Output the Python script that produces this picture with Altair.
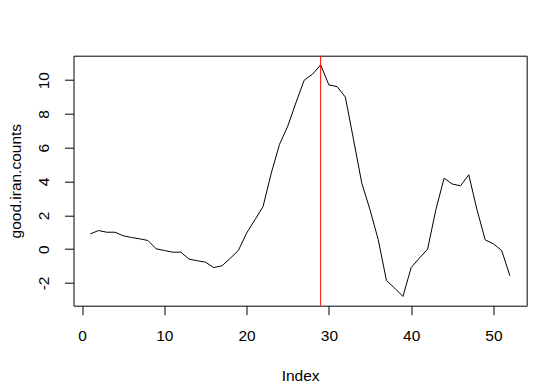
import altair as alt
import pandas as pd

index = list(range(1, 53))
counts = [0.9, 1.1, 1.0, 1.0, 0.79, 0.69, 0.61, 0.51,
          0.02, -0.08, -0.18, -0.18, -0.59, -0.69, -0.77, -1.09,
          -0.99, -0.55, -0.08, 0.95, 1.73, 2.52, 4.5, 6.2, 7.28, 8.67,
          10.0, 10.35, 10.9, 9.72, 9.62, 9.0, 6.47, 3.9, 2.33, 0.55,
          -1.86, -2.31, -2.8, -1.09, -0.53, 0.0, 2.33, 4.2, 3.85, 3.75,
          4.4, 2.33, 0.55, 0.31, -0.08, -1.58]
peak_index = [29]
x_ticks = [0, 10, 20, 30, 40, 50]
y_ticks = [-2, 0, 2, 4, 6, 8, 10]

df = pd.DataFrame({"Index": index, "counts": counts})
vdf = pd.DataFrame({"Index": peak_index})

FONT = "Liberation Sans"
FS = 15.5

xscale = alt.Scale(domain=[-1.04, 54.04], nice=False, zero=False)
yscale = alt.Scale(domain=[-3.348, 11.448], nice=False, zero=False)

xaxis = alt.Axis(values=x_ticks, title="Index", labelBaseline="alphabetic",
                 labelPadding=26, titleY=75, titleBaseline="alphabetic",
                 titleAlign="center")
yaxis = alt.Axis(values=y_ticks, title="good.iran.counts", labelAngle=270,
                 labelAlign="center", labelBaseline="alphabetic", labelPadding=16.5,
                 labelExpr="datum.value < 0 ? '-' + abs(datum.value) : '' + datum.value",
                 titleAngle=270, titleX=-53, titleY=125, titleAlign="center",
                 titleBaseline="alphabetic")

line = alt.Chart(df).mark_line(color="#000000", strokeWidth=1).encode(
    x=alt.X("Index:Q", scale=xscale, axis=xaxis),
    y=alt.Y("counts:Q", scale=yscale, axis=yaxis),
)

vline = alt.Chart(vdf).mark_rule(color="#FF0000", strokeWidth=1).encode(
    x=alt.X("Index:Q", scale=xscale),
)

chart = alt.layer(line, vline).properties(
    width=453.2, height=250,
    autosize=alt.AutoSizeParams(type="none"),
    padding={"left": 65.5, "top": 47.7, "right": 4, "bottom": 80},
    background="white",
).configure_view(
    stroke="#000000", strokeWidth=1
).configure_axis(
    domain=False, grid=False, ticks=True, tickColor="#000000", tickSize=9,
    tickWidth=1, labelFont=FONT, labelFontSize=FS, labelColor="#000000",
    titleFont=FONT, titleFontSize=FS, titleFontWeight="normal", titleColor="#000000",
    labelFlush=False, labelOverlap=False
)

chart.save("out.html", embed_options={"renderer": "svg", "actions": False})
